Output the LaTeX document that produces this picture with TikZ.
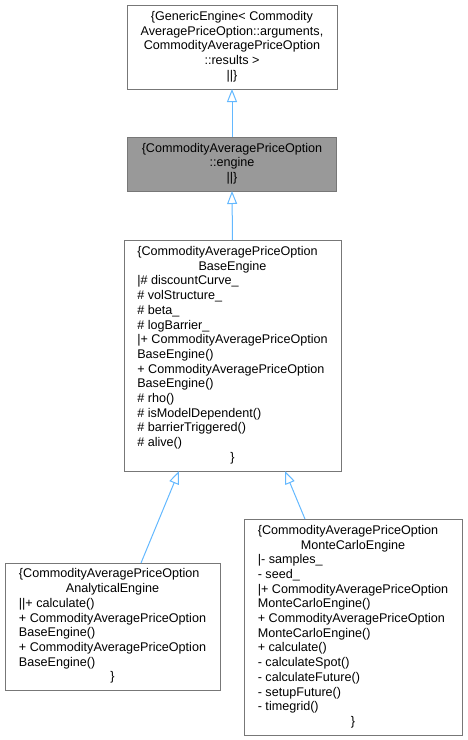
\documentclass[tikz,border=0pt]{standalone}
\usepackage{fontspec}
\setmainfont{Liberation Sans}
\usetikzlibrary{arrows.meta,calc}
\definecolor{edgeblue}{HTML}{63B8FF}
\definecolor{boxline}{HTML}{777777}
\definecolor{boxfill}{HTML}{999999}
\tikzset{
  umlbox/.style={draw=boxline, line width=1pt, fill=white, rectangle, anchor=north west,
    inner sep=0pt, outer sep=0pt, font=\fontsize{12.6}{14.7}\selectfont},
  inherit/.style={draw=edgeblue, line width=1pt,
    -{Triangle[open, length=13pt, width=10pt, line width=1pt]}}
}
\begin{document}
\begin{tikzpicture}[x=1pt,y=-1pt]
\useasboundingbox (0,0) rectangle (467,740);
\node[umlbox, minimum width=210pt, minimum height=84pt] (ge) at (127,5)
 {\begin{tabular}{@{}c@{}}
 \{GenericEngine< Commodity\\
 AveragePriceOption::arguments,\\
 CommodityAveragePriceOption\\
 ::results >\\
 ||\}
 \end{tabular}};
\node[umlbox, fill=boxfill, minimum width=209pt, minimum height=54pt] (eng) at (127.5,137)
 {\begin{tabular}{@{}c@{}}
 \{CommodityAveragePriceOption\\
 ::engine\\
 ||\}
 \end{tabular}};
\node[umlbox, minimum width=217pt, minimum height=231pt] (be) at (124,240)
 {\begin{tabular}{@{}l@{}}
 \{CommodityAveragePriceOption\\
 \multicolumn{1}{c}{BaseEngine}\\
 |\# discountCurve\_\\
 \# volStructure\_\\
 \# beta\_\\
 \# logBarrier\_\\
 |+ CommodityAveragePriceOption\\
 BaseEngine()\\
 + CommodityAveragePriceOption\\
 BaseEngine()\\
 \# rho()\\
 \# isModelDependent()\\
 \# barrierTriggered()\\
 \# alive()\\
 \multicolumn{1}{c}{\}}
 \end{tabular}};
\node[umlbox, minimum width=215pt, minimum height=127pt] (an) at (5,563)
 {\begin{tabular}{@{}l@{}}
 \{CommodityAveragePriceOption\\
 \multicolumn{1}{c}{AnalyticalEngine}\\
 ||+ calculate()\\
 + CommodityAveragePriceOption\\
 BaseEngine()\\
 + CommodityAveragePriceOption\\
 BaseEngine()\\
 \multicolumn{1}{c}{\}}
 \end{tabular}};
\node[umlbox, minimum width=218pt, minimum height=216pt] (mc) at (244,519)
 {\begin{tabular}{@{}l@{}}
 \{CommodityAveragePriceOption\\
 \multicolumn{1}{c}{MonteCarloEngine}\\
 |- samples\_\\
 - seed\_\\
 |+ CommodityAveragePriceOption\\
 MonteCarloEngine()\\
 + CommodityAveragePriceOption\\
 MonteCarloEngine()\\
 + calculate()\\
 - calculateSpot()\\
 - calculateFuture()\\
 - setupFuture()\\
 - timegrid()\\
 \multicolumn{1}{c}{\}}
 \end{tabular}};
\coordinate (anTop) at ($(an.north west)+(136,0)$);
\coordinate (beL) at ($(be.south west)+(55,0)$);
\coordinate (mcTop) at ($(mc.north west)+(61,0)$);
\coordinate (beR) at ($(be.south west)+(161,0)$);
\draw[inherit] (eng.north) -- (ge.south);
\draw[inherit] (be.north) -- (eng.south);
\draw[inherit] (anTop) -- (beL);
\draw[inherit] (mcTop) -- (beR);
\end{tikzpicture}
\end{document}
